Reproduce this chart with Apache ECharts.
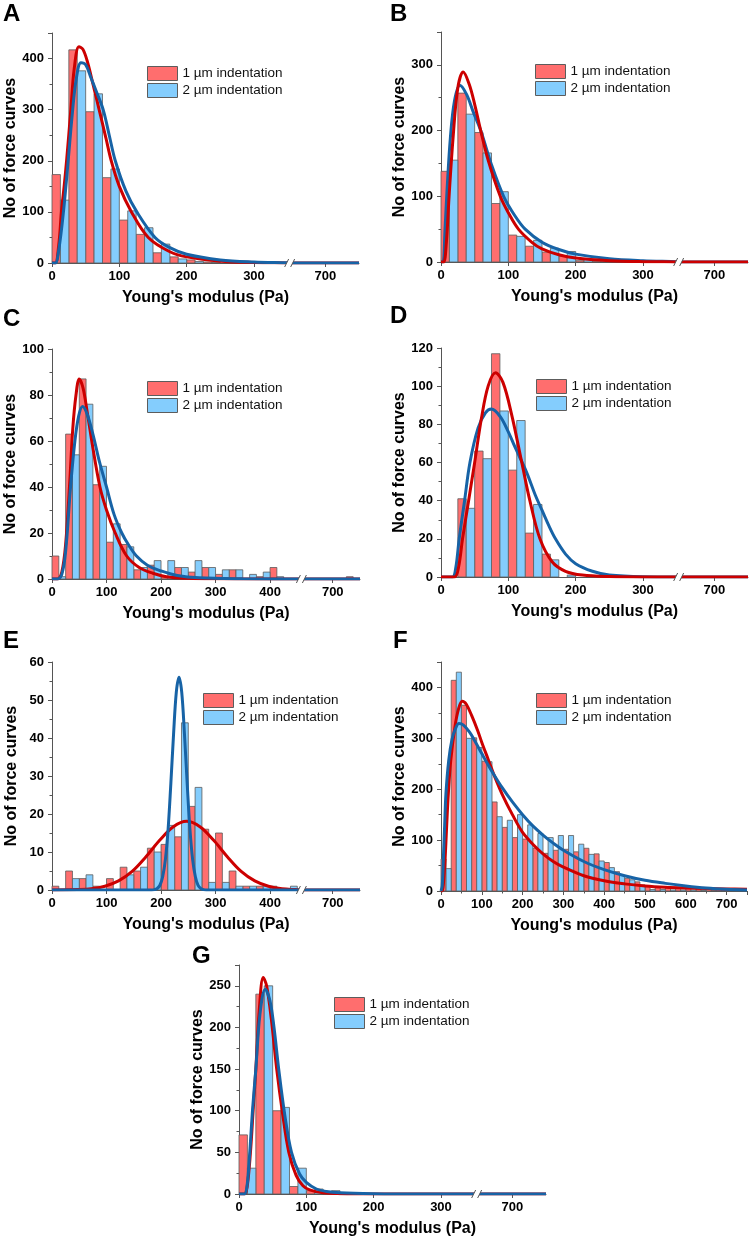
<!DOCTYPE html>
<html><head><meta charset="utf-8">
<script src="https://cdn.jsdelivr.net/npm/echarts@6/dist/echarts.min.js"></script>
<style>html,body{margin:0;padding:0;background:#fff}#c{width:750px;height:1239px}</style>
</head><body><div id="c"></div>
<script>
// ---------------- DATA ----------------
const binWidth = 25; // Pa per histogram bin (left half = 1 µm, right half = 2 µm)
const seriesNames = ['1 µm indentation', '2 µm indentation'];
const xTitle = "Young's modulus (Pa)";
const yTitle = 'No of force curves';
const xTicksBreak350 = [0, 100, 200, 300, 700];
const xTicksBreak450 = [0, 100, 200, 300, 400, 700];
const xTicksFull = [0, 100, 200, 300, 400, 500, 600, 700];

const A_counts1 = [173, 417, 296, 167, 84, 56, 20, 12, 6, 2];
const A_counts2 = [123, 376, 331, 184, 102, 69, 37, 8, 3, 1];
const A_fit1 = [[0,0],[5,0],[10,35],[14,100],[18,150],[22,205],[28,300],[33,380],[40,423],[46,418],[53,392],[60,355],[70,300],[80,245],[88,200],[100,150],[118,100],[143,50],[175,22],[200,12],[250,3.5],[300,1],[350,0.2],[650,0],[750,0]];
const A_fit2 = [[0,0],[5,0],[10,25],[17,100],[24,200],[30,290],[36,360],[43,392],[50,388],[58,362],[66,335],[76,300],[85,250],[94,200],[110,140],[126,100],[153,50],[175,30],[200,17],[250,6],[300,2],[350,0.5],[650,0],[750,0]];

const B_counts1 = [138, 257, 197, 89, 41, 24, 15, 9, 2, 1];
const B_counts2 = [155, 225, 166, 107, 39, 33, 21, 16, 4, 1];
const B_fit1 = [[0,0],[4,0],[8,30],[12,100],[18,190],[25,265],[33,289],[42,270],[50,240],[59,200],[70,155],[88,100],[100,75],[115,50],[135,30],[150,20],[175,11],[200,6],[250,2],[300,0.5],[350,0.1],[650,0],[750,0]];
const B_fit2 = [[0,0],[3,0],[6,50],[9,110],[14,190],[20,245],[28,269],[38,255],[48,228],[59,200],[75,148],[93,100],[110,70],[125,50],[150,30],[175,19],[200,12],[250,5],[300,2],[350,0.5],[650,0],[750,0]];

const C_counts1 = [10, 63, 87, 41, 16, 15, 4, 6, 1, 5, 3, 5, 2, 4, 0, 1, 5, 0, 0, 0, 0, 0, 0, 0, 0, 0, 0, 0, 0, 1];
const C_counts2 = [1, 54, 76, 49, 24, 14, 5, 8, 8, 5, 8, 5, 4, 4, 2, 3, 1, 0];
const C_fit1 = [[0,0],[10,0],[18,3],[25,15],[32,40],[38,65],[44,80],[50,87],[57,83],[65,72],[75,57],[88,40],[100,30],[116,20],[137,10],[160,5],[185,2.5],[210,1],[250,0.3],[300,0.1],[450,0],[650,0],[750,0]];
const C_fit2 = [[0,0],[10,0],[18,2],[25,12],[34,40],[42,60],[49,71],[56,75],[64,72],[75,63],[87,51],[100,40],[114,28],[128,20],[140,15],[155,10],[175,6],[200,3.5],[230,1.5],[270,0.5],[350,0.1],[450,0],[650,0],[750,0]];

const D_counts1 = [0, 41, 66, 117, 56, 23, 12, 0];
const D_counts2 = [0, 36, 62, 87, 82, 38, 9, 1];
const D_fit1 = [[0,0],[20,0],[26,5],[32,20],[41,40],[50,60],[60,83],[70,100],[81,107],[92,102],[105,85],[120,60],[132,40],[147,20],[165,8],[185,3],[210,1],[250,0.2],[300,0],[350,0],[650,0],[750,0]];
const D_fit2 = [[0,0],[17,0],[22,5],[27,20],[35,40],[43,60],[55,78],[66,86],[75,88],[88,84],[100,76],[110,68],[127,55],[140,43],[150,35],[160,27],[170,20],[185,12],[200,7],[225,3],[250,1],[300,0.1],[350,0],[650,0],[750,0]];

const E_counts1 = [1, 5, 3, 1, 3, 6, 5, 11, 12, 14, 22, 16, 15, 5, 1, 1, 1, 0];
const E_counts2 = [0, 3, 4, 0, 0, 4, 6, 10, 17, 44, 27, 2, 2, 1, 1, 1, 0, 1];
const E_fit1 = [[0,0],[47,0.1],[72,0.3],[97,1],[122,2.4],[147,4.9],[172,8.7],[197,13],[222,16.6],[247,18.1],[272,16.6],[297,13],[322,8.7],[347,4.9],[372,2.4],[397,1],[422,0.3],[447,0.1],[650,0],[750,0]];
const E_fit2 = [[0,0],[183,0],[188,0.1],[193,0.4],[198,1.25],[203,3.5],[208,8],[213,16],[218,28],[223,41],[228,52],[233,56],[238,52],[243,41],[248,28],[253,16],[258,8],[263,3.5],[268,1.2],[273,0.4],[278,0.1],[283,0],[450,0],[650,0],[750,0]];

const F_counts1 = [63, 414, 365, 301, 255, 175, 125, 105, 102, 84, 74, 80, 82, 77, 84, 73, 56, 38, 25, 18, 10, 7, 7, 6, 5, 4, 3, 2, 2, 1];
const F_counts2 = [44, 430, 300, 282, 254, 146, 139, 150, 130, 113, 105, 109, 109, 92, 72, 59, 46, 31, 22, 12, 3, 3, 2, 2, 2, 1, 1, 1, 1];
const F_fit1 = [[0,0],[3,0],[6,15],[10,62],[14,130],[18,192],[24,257],[34,322],[43,358],[52,373],[62,367],[75,345],[90,315],[100,292],[115,260],[130,228],[150,190],[175,150],[200,115],[225,92],[250,73],[275,58],[300,47],[350,30],[400,20],[450,14],[500,10],[550,7.5],[600,6],[650,5],[700,4],[750,3.5]];
const F_fit2 = [[0,0],[3,10],[6,68],[9,130],[12,190],[19,257],[27,298],[35,318],[44,329],[55,326],[70,312],[85,292],[100,270],[125,235],[150,203],[175,175],[200,150],[225,128],[250,110],[275,94],[300,80],[350,58],[400,42],[450,30],[500,21],[550,15],[600,10],[650,6],[700,3.5],[750,2]];

const G_counts1 = [71, 240, 100, 9, 4, 1];
const G_counts2 = [31, 250, 104, 31, 6, 4];
const G_fit1 = [[0,0],[8,0],[12,8],[17,50],[21,100],[25,150],[30,220],[36,260],[41,250],[48,210],[56,150],[65,95],[74,50],[85,22],[95,10],[105,5],[125,1.5],[150,0.4],[200,0],[350,0],[650,0],[750,0]];
const G_fit2 = [[0,0],[8,0],[12,10],[16,50],[20,100],[25,150],[31,215],[39,246],[46,232],[52,200],[59,150],[68,95],[78,50],[90,24],[100,14],[115,6],[130,3],[150,1.5],[200,0.4],[250,0.1],[300,0],[350,0],[650,0],[750,0]];

// ---------------- STYLE / LAYOUT ----------------
const FONT = '"Liberation Sans", Arial, Helvetica, sans-serif';
const RED_FILL = '#ff6e6e', BLUE_FILL = '#84cdfd', BORDER = '#5c5c5c';
const RED_LINE = '#cc0000', BLUE_LINE = '#1763a6', AXIS = '#555555';

const panels = [
  {key:'A', c1:A_counts1, c2:A_counts2, f1:A_fit1, f2:A_fit2, ticks:xTicksBreak350, brk:[350,650], shift:294, yMax:450, yInt:100,
   grid:{left:52, top:33, width:307, height:230}, legend:{left:147, top:66}, letter:{left:3, top:2}, top:'blue'},
  {key:'B', c1:B_counts1, c2:B_counts2, f1:B_fit1, f2:B_fit2, ticks:xTicksBreak350, brk:[350,650], shift:294, yMax:350, yInt:100,
   grid:{left:441, top:32, width:307, height:230}, legend:{left:535, top:64}, letter:{left:390, top:2}, top:'red'},
  {key:'C', c1:C_counts1, c2:C_counts2, f1:C_fit1, f2:C_fit2, ticks:xTicksBreak450, brk:[450,650], shift:185, yMax:100, yInt:20,
   grid:{left:52, top:349, width:308, height:230}, legend:{left:147, top:381}, letter:{left:3, top:307}, top:'blue'},
  {key:'D', c1:D_counts1, c2:D_counts2, f1:D_fit1, f2:D_fit2, ticks:xTicksBreak350, brk:[350,650], shift:294, yMax:120, yInt:20,
   grid:{left:441, top:348, width:307, height:229}, legend:{left:536, top:379}, letter:{left:390, top:304}, top:'red'},
  {key:'E', c1:E_counts1, c2:E_counts2, f1:E_fit1, f2:E_fit2, ticks:xTicksBreak450, brk:[450,650], shift:185, yMax:60, yInt:10,
   grid:{left:52, top:662, width:308, height:228}, legend:{left:203, top:693}, letter:{left:3, top:629}, top:'blue'},
  {key:'F', c1:F_counts1, c2:F_counts2, f1:F_fit1, f2:F_fit2, ticks:xTicksFull, brk:null, shift:0, yMax:450, yInt:100,
   grid:{left:441, top:662, width:309, height:229}, legend:{left:536, top:693}, letter:{left:393, top:629}, top:'blue'},
  {key:'G', c1:G_counts1, c2:G_counts2, f1:G_fit1, f2:G_fit2, ticks:xTicksBreak350, brk:[350,650], shift:294, yMax:275, yInt:50,
   grid:{left:239, top:965, width:307, height:229}, legend:{left:334, top:997}, letter:{left:192, top:944}, top:'blue'}
];

function mapper(p) {
  return v => (p.brk && v > p.brk[0]) ? v - p.shift : v;
}
function inGap(p, v) { return p.brk && v > p.brk[0] && v < p.brk[1]; }

const grids = [], xAxes = [], yAxes = [], series = [], legends = [], titles = [];
const labelStyle = {fontSize:13, fontWeight:'bold', color:'#000', fontFamily:FONT};
const nameStyle = {fontSize:16, fontWeight:'bold', color:'#000', fontFamily:FONT};

panels.forEach((p, i) => {
  const mx = mapper(p);
  grids.push(Object.assign({containLabel:false}, p.grid));
  const tickVals = p.ticks.map(mx);
  const xa = {
    gridIndex:i, type:'value', min:0, max:mx(750),
    axisLine:{show:true, onZero:false, lineStyle:{color:AXIS, width:1}},
    axisTick:{show:true, length:4, lineStyle:{color:AXIS}},
    axisLabel:Object.assign({margin:7}, labelStyle),
    splitLine:{show:false},
    name:xTitle, nameLocation:'middle', nameGap:27, nameTextStyle:nameStyle
  };
  if (p.brk) {
    xa.axisTick.customValues = tickVals;
    xa.axisLabel.customValues = tickVals;
    xa.axisLabel.formatter = v => { const t = p.ticks.find(t => Math.abs(mx(t) - v) < 1e-6); return t === undefined ? '' : String(t); };
  } else {
    xa.interval = 100;
    xa.minorTick = {show:true, splitNumber:2, length:2.5, lineStyle:{color:AXIS}};
    xa.axisLabel.formatter = v => (p.ticks.indexOf(v) >= 0 ? String(v) : '');
  }
  xAxes.push(xa);
  yAxes.push({
    gridIndex:i, type:'value', min:0, max:p.yMax, interval:p.yInt,
    axisLine:{show:true, onZero:false, lineStyle:{color:AXIS, width:1}},
    axisTick:{show:true, length:4, lineStyle:{color:AXIS}},
    minorTick:{show:true, splitNumber:2, length:2.5, lineStyle:{color:AXIS}},
    axisLabel:Object.assign({margin:8, formatter: v => (v % p.yInt === 0 ? String(v) : '')}, labelStyle),
    splitLine:{show:false}, minorSplitLine:{show:false},
    name:yTitle, nameLocation:'middle', nameGap:32, nameTextStyle:nameStyle
  });

  [[p.c1, 0, seriesNames[0], RED_FILL], [p.c2, 1, seriesNames[1], BLUE_FILL]].forEach(([counts, half, name, fill]) => {
    const data = [];
    counts.forEach((c, k) => {
      if (c > 0) {
        const x0 = k * binWidth + half * binWidth / 2;
        data.push([mx(x0), mx(x0 + binWidth / 2), c]);
      }
    });
    series.push({
      type:'custom', name, xAxisIndex:i, yAxisIndex:i, data, encode:{x:[0,1], y:2},
      itemStyle:{color:fill, borderColor:BORDER, borderWidth:1}, z:2, silent:true,
      renderItem:(params, api) => {
        const a = api.coord([api.value(0), api.value(2)]);
        const b = api.coord([api.value(1), 0]);
        return {type:'rect', shape:{x:a[0], y:a[1], width:b[0] - a[0], height:b[1] - a[1]},
                style:{fill:fill, stroke:BORDER, lineWidth:0.8}};
      }
    });
  });

  const lineOf = (fit, color, z) => ({
    type:'line', name:'fit', xAxisIndex:i, yAxisIndex:i, z:z, silent:true,
    data: fit.filter(d => !inGap(p, d[0])).map(d => [mx(d[0]), d[1]]),
    smooth:0.35, showSymbol:false, symbol:'none',
    lineStyle:{color:color, width:3}, itemStyle:{color:color}
  });
  if (p.top === 'blue') { series.push(lineOf(p.f1, RED_LINE, 3)); series.push(lineOf(p.f2, BLUE_LINE, 4)); }
  else { series.push(lineOf(p.f2, BLUE_LINE, 3)); series.push(lineOf(p.f1, RED_LINE, 4)); }

  legends.push({
    orient:'vertical', left:p.legend.left, top:p.legend.top, padding:0, itemGap:2,
    itemWidth:30, itemHeight:14, icon:'rect', selectedMode:false,
    data:[
      {name:seriesNames[0], itemStyle:{color:RED_FILL, borderColor:BORDER, borderWidth:1}},
      {name:seriesNames[1], itemStyle:{color:BLUE_FILL, borderColor:BORDER, borderWidth:1}}
    ],
    textStyle:{fontSize:13.5, color:'#111', fontFamily:FONT}
  });
  titles.push({text:p.key, left:p.letter.left, top:p.letter.top, padding:0,
    textStyle:{fontSize:24, fontWeight:'bold', color:'#000', fontFamily:FONT}});
});

const chart = echarts.init(document.getElementById('c'), null, {renderer:'canvas'});
chart.setOption({
  animation:false, backgroundColor:'#fff',
  title:titles, legend:legends, grid:grids, xAxis:xAxes, yAxis:yAxes, series:series
});

// axis-break marks "//" placed with the library's own coordinate conversion
const graphics = [];
panels.forEach((p, i) => {
  if (!p.brk) return;
  const mx = mapper(p);
  const mid = (mx(p.brk[0]) + mx(p.brk[1])) / 2;
  const pt = chart.convertToPixel({gridIndex:i}, [mid, 0]);
  const x = pt[0], y = pt[1];
  graphics.push({type:'polygon', z:100, shape:{points:[[x-5,y+4],[x-1,y-4],[x+5,y-4],[x+1,y+4]]}, style:{fill:'#fff'}});
  graphics.push({type:'line', z:101, shape:{x1:x-5, y1:y+4, x2:x-1, y2:y-4}, style:{stroke:AXIS, lineWidth:1}});
  graphics.push({type:'line', z:101, shape:{x1:x+1, y1:y+4, x2:x+5, y2:y-4}, style:{stroke:AXIS, lineWidth:1}});
});
chart.setOption({graphic:graphics});
</script>
</body></html>
